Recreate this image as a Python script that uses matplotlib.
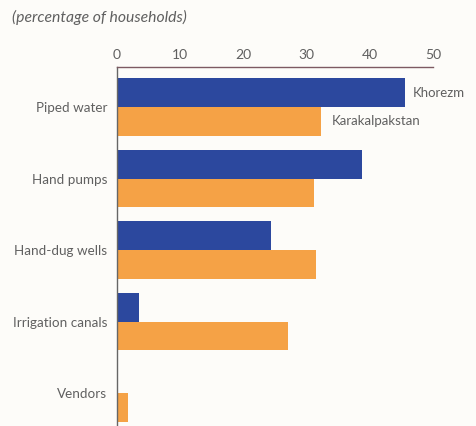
import numpy as np
import matplotlib.pyplot as plt

plt.rcParams['font.family'] = ['Lato', 'DejaVu Sans']

# households by main water source (%)
categories = ['Piped water', 'Hand pumps', 'Hand-dug wells', 'Irrigation canals', 'Vendors']
khorezm = [45.6, 38.7, 24.3, 3.5, 0.0]
karakalpakstan = [32.3, 31.2, 31.5, 27.0, 1.7]
ticks = [0, 10, 20, 30, 40, 50]

blue = '#2c489e'
orange = '#f5a246'
text_col = '#606060'

fig = plt.figure(figsize=(4.76, 4.26), dpi=100)
fig.patch.set_facecolor('#fdfcf9')
ax = fig.add_axes([0.2458, 0.0, 0.6639, 0.8427])
ax.set_facecolor('#fdfcf9')

y = np.arange(len(categories))
h = 0.4
ax.barh(y - h / 2, khorezm, height=h, color=blue)
ax.barh(y + h / 2, karakalpakstan, height=h, color=orange)

ax.set_xlim(0, 50)
ax.set_ylim(4.46, -0.56)

ax.xaxis.tick_top()
ax.set_xticks(ticks)
ax.set_xticklabels([str(t) for t in ticks], fontsize=10, color=text_col)
ax.tick_params(axis='x', length=0, pad=4)
ax.set_yticks(y)
ax.set_yticklabels(categories, fontsize=9.7, color=text_col)
ax.tick_params(axis='y', length=0, pad=7)

for side in ['right', 'bottom']:
    ax.spines[side].set_visible(False)
ax.spines['top'].set_color('#7d5a62')
ax.spines['top'].set_linewidth(1.0)
ax.spines['left'].set_color('#666666')
ax.spines['left'].set_linewidth(1.0)

# series names beside the first group
ax.text(khorezm[0] + 1.2, y[0] - h / 2, 'Khorezm', va='center', ha='left',
        fontsize=9.5, color=text_col)
ax.text(karakalpakstan[0] + 1.7, y[0] + h / 2, 'Karakalpakstan', va='center', ha='left',
        fontsize=9.5, color=text_col)

fig.text(12 / 476, 1 - 17 / 426, '(percentage of households)', style='italic',
         fontsize=11.3, color=text_col, ha='left', va='center')

fig.savefig('out.png', dpi=100, facecolor=fig.get_facecolor())
